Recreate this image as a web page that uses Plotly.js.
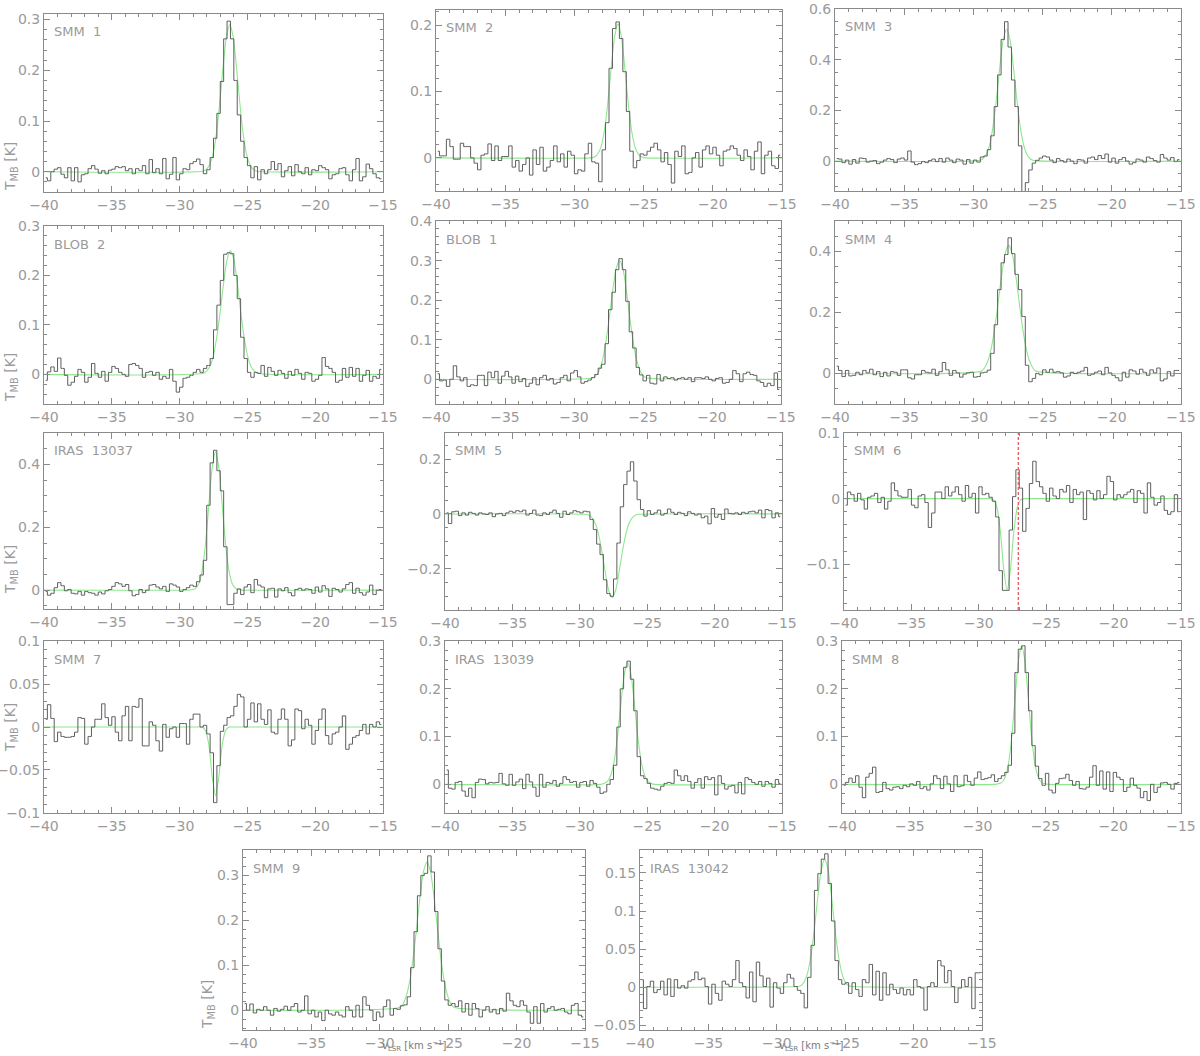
<!DOCTYPE html>
<html>
<head>
<meta charset="utf-8">
<script src="https://cdn.plot.ly/plotly-3.0.1.min.js"></script>
<style>
  html, body { margin: 0; padding: 0; background: #fff; }
  #spectra { width: 1200px; height: 1056px; }
</style>
</head>
<body>
<div id="spectra"></div>
<script>
// velocity channels shared by all spectra (km/s)
const chanStart = -39.875;
const chanWidth = 0.25;
const nChan = 100;

const sourceNames = ['SMM 1', 'SMM 2', 'SMM 3', 'BLOB 2', 'BLOB 1', 'SMM 4', 'IRAS 13037',
  'SMM 5', 'SMM 6', 'SMM 7', 'IRAS 13039', 'SMM 8', 'SMM 9', 'IRAS 13042'];

// T_MB [K] per channel
const smm1 = [
  -0.012, -0.018, 0.000, 0.005, 0.008, -0.005, -0.012, 0.008, -0.018, 0.008, -0.020, -0.006, -0.004, 0.006, 0.012, 0.005, -0.003, 0.002, -0.004, 0.003,
  0.005, 0.010, 0.008, 0.010, 0.002, 0.006, -0.004, 0.006, 0.002, 0.012, -0.004, 0.024, -0.002, 0.006, -0.004, 0.026, -0.014, -0.005, 0.028, -0.016,
  -0.004, 0.006, 0.004, 0.016, 0.020, 0.025, 0.014, -0.004, 0.004, 0.028, 0.066, 0.115, 0.178, 0.262, 0.297, 0.262, 0.180, 0.112, 0.060, 0.028,
  0.012, -0.012, 0.010, -0.016, 0.004, -0.004, 0.004, 0.020, 0.004, 0.016, -0.010, 0.002, 0.010, -0.008, 0.014, 0.000, -0.004, 0.008, -0.006, 0.004,
  0.002, 0.012, 0.008, 0.004, -0.014, -0.006, -0.004, 0.006, 0.008, -0.006, -0.018, 0.004, 0.026, -0.018, -0.010, 0.015, 0.006, -0.004, -0.012, -0.014];
const smm2 = [
  0.010, 0.003, 0.003, 0.028, 0.017, -0.002, -0.002, 0.022, 0.017, 0.017, 0.000, -0.008, -0.018, 0.004, 0.006, 0.021, -0.004, 0.018, -0.004, 0.002,
  0.002, 0.018, -0.014, -0.004, -0.020, -0.010, 0.000, -0.026, 0.012, -0.010, 0.016, -0.020, -0.014, -0.004, 0.018, -0.006, 0.006, -0.014, 0.010, 0.004,
  -0.024, -0.018, -0.020, 0.006, 0.022, -0.006, -0.008, -0.036, 0.012, 0.053, 0.135, 0.195, 0.205, 0.180, 0.130, 0.070, 0.010, -0.015, -0.004, 0.006,
  0.004, 0.010, 0.016, 0.022, 0.012, -0.006, 0.008, -0.010, -0.038, 0.010, 0.002, 0.018, -0.024, -0.022, 0.000, 0.008, -0.014, 0.012, 0.018, 0.006,
  0.016, 0.004, -0.012, 0.010, 0.012, 0.018, 0.014, 0.004, -0.004, 0.012, 0.002, -0.018, 0.010, 0.024, -0.024, 0.004, 0.010, -0.012, -0.016, 0.004];
const smm3 = [
  0.010, 0.008, -0.006, 0.004, -0.012, 0.006, -0.008, 0.012, 0.010, -0.004, 0.000, 0.002, -0.010, -0.004, 0.004, 0.010, 0.006, -0.006, 0.008, 0.012,
  0.004, 0.040, -0.004, -0.014, -0.010, -0.002, -0.006, 0.002, 0.008, -0.002, 0.010, -0.004, 0.012, 0.004, -0.006, 0.008, 0.004, -0.012, 0.006, -0.008,
  0.004, -0.004, 0.016, 0.020, 0.045, 0.100, 0.215, 0.340, 0.480, 0.550, 0.450, 0.320, 0.215, 0.060, -0.130, -0.085, -0.035, -0.008, 0.003, 0.012,
  0.020, 0.016, 0.004, -0.006, 0.010, 0.002, -0.004, 0.008, 0.000, -0.010, 0.006, 0.004, -0.008, 0.012, 0.016, 0.006, 0.022, 0.010, 0.028, -0.004,
  0.012, -0.008, 0.006, 0.014, 0.000, -0.012, -0.006, 0.008, 0.004, -0.004, 0.016, 0.010, 0.002, -0.004, 0.026, 0.012, 0.004, 0.014, -0.002, 0.006];
const blob2 = [
  -0.012, 0.005, 0.015, 0.006, 0.033, 0.012, -0.002, -0.022, -0.016, -0.004, 0.010, 0.004, -0.016, -0.006, 0.022, 0.002, -0.006, 0.006, -0.014, 0.004,
  0.016, 0.012, 0.004, 0.000, -0.004, 0.020, 0.022, 0.018, 0.012, -0.006, 0.004, 0.006, -0.002, 0.004, -0.010, -0.004, -0.008, 0.010, -0.014, -0.036,
  -0.026, -0.008, -0.006, -0.002, 0.004, 0.010, 0.004, 0.012, 0.018, 0.032, 0.090, 0.140, 0.190, 0.243, 0.246, 0.244, 0.200, 0.153, 0.075, 0.032,
  0.004, -0.006, 0.004, 0.002, 0.018, -0.004, 0.014, 0.006, -0.002, 0.008, 0.002, -0.008, 0.006, -0.002, 0.010, 0.002, -0.010, 0.004, 0.002, -0.014,
  -0.010, -0.002, 0.034, 0.016, 0.012, 0.004, -0.016, -0.012, 0.012, -0.006, 0.014, -0.004, 0.012, -0.014, -0.002, 0.008, -0.014, -0.004, -0.008, 0.010];
const blob1 = [
  0.014, -0.004, -0.002, -0.018, 0.000, 0.034, 0.006, -0.004, 0.004, -0.018, -0.014, -0.016, 0.010, 0.010, -0.016, 0.018, 0.004, 0.020, -0.010, 0.008,
  0.020, 0.006, -0.010, 0.008, -0.006, 0.002, -0.018, -0.010, 0.004, -0.014, 0.004, 0.010, -0.002, 0.002, -0.012, -0.008, 0.004, 0.010, -0.004, 0.016,
  0.022, 0.006, -0.010, -0.006, -0.002, 0.004, 0.012, 0.028, 0.038, 0.090, 0.176, 0.220, 0.277, 0.305, 0.277, 0.197, 0.120, 0.079, 0.030, 0.011,
  -0.004, 0.010, -0.010, -0.012, 0.012, -0.004, 0.006, 0.002, 0.004, -0.002, 0.002, 0.004, 0.000, 0.004, -0.006, 0.004, 0.004, 0.002, 0.006, 0.000,
  -0.004, 0.002, 0.004, -0.010, -0.008, 0.000, 0.022, 0.014, -0.006, 0.014, 0.018, 0.012, 0.010, -0.004, -0.008, -0.018, -0.010, -0.016, 0.016, -0.026];
const smm4 = [
  0.024, 0.010, -0.010, 0.010, -0.008, -0.006, 0.004, -0.004, 0.010, 0.002, 0.014, -0.004, 0.006, -0.010, 0.004, -0.008, 0.006, 0.004, -0.006, 0.012,
  0.012, -0.014, -0.018, -0.004, -0.004, 0.010, 0.004, 0.002, 0.014, -0.006, 0.006, 0.036, 0.012, -0.006, 0.010, 0.002, -0.012, -0.002, 0.002, 0.004,
  -0.012, -0.010, 0.002, 0.004, 0.011, 0.066, 0.160, 0.275, 0.363, 0.390, 0.445, 0.393, 0.325, 0.275, 0.187, 0.027, -0.027, -0.016, 0.000, -0.004,
  0.012, 0.004, 0.014, 0.004, 0.006, 0.002, -0.012, -0.008, 0.004, 0.000, 0.004, 0.008, 0.020, -0.006, -0.002, 0.004, 0.008, -0.004, 0.020, 0.002,
  -0.006, -0.014, -0.024, 0.004, -0.012, 0.012, 0.008, -0.002, 0.014, 0.004, -0.006, 0.012, 0.002, 0.018, -0.024, -0.018, 0.006, -0.008, 0.010, 0.010];
const iras13037 = [
  -0.004, -0.016, -0.010, 0.008, 0.024, 0.014, -0.002, 0.002, -0.010, -0.012, -0.004, -0.016, -0.004, -0.008, -0.010, -0.016, -0.006, -0.012, -0.002, 0.002,
  0.012, 0.024, 0.020, 0.012, 0.018, -0.002, -0.018, -0.014, 0.002, -0.008, 0.000, 0.016, 0.018, 0.010, 0.004, 0.012, -0.004, 0.020, 0.016, 0.010,
  -0.004, 0.002, 0.008, 0.016, 0.012, 0.027, 0.048, 0.095, 0.270, 0.405, 0.445, 0.380, 0.316, 0.138, -0.046, -0.046, -0.010, 0.004, -0.014, 0.010,
  0.018, -0.008, 0.034, 0.016, 0.010, -0.024, 0.004, 0.006, -0.022, 0.004, -0.002, 0.008, -0.008, -0.018, 0.002, 0.006, 0.000, 0.004, 0.002, -0.010,
  0.010, -0.006, 0.014, 0.004, -0.020, 0.006, 0.002, -0.006, 0.004, 0.018, 0.024, -0.010, 0.006, -0.008, -0.016, -0.006, 0.016, -0.014, 0.000, 0.002];
const smm5 = [
  0.004, -0.035, 0.008, 0.010, -0.006, 0.004, -0.004, 0.006, 0.002, -0.004, 0.004, 0.000, -0.002, 0.004, -0.010, 0.000, 0.002, -0.006, 0.004, 0.010,
  0.006, 0.012, 0.008, 0.014, -0.004, 0.002, 0.014, -0.004, -0.006, 0.004, -0.002, 0.006, 0.014, 0.002, -0.012, 0.010, -0.002, 0.004, 0.012, 0.008,
  0.004, 0.010, 0.008, -0.020, -0.057, -0.110, -0.148, -0.240, -0.290, -0.300, -0.237, -0.106, 0.026, 0.107, 0.156, 0.190, 0.120, 0.052, 0.016, -0.008,
  0.012, -0.002, 0.004, 0.014, -0.004, 0.002, 0.018, 0.006, -0.002, 0.006, 0.002, -0.006, 0.008, 0.002, -0.004, 0.000, -0.014, -0.008, -0.036, 0.020,
  -0.012, -0.002, -0.020, 0.018, 0.002, 0.000, 0.004, -0.002, 0.006, 0.002, 0.008, 0.010, 0.004, 0.014, -0.014, 0.016, 0.012, -0.014, 0.004, -0.010];
const smm6 = [
  -0.010, 0.010, 0.006, -0.004, 0.008, -0.002, -0.016, 0.002, 0.004, 0.008, -0.006, 0.002, -0.016, -0.004, 0.024, 0.012, 0.004, 0.002, 0.002, 0.014,
  -0.010, -0.014, 0.004, 0.006, -0.006, -0.044, -0.022, 0.010, 0.010, 0.000, 0.018, 0.004, 0.010, 0.018, 0.006, -0.004, 0.020, 0.002, 0.008, -0.022,
  0.018, 0.006, 0.008, 0.002, -0.004, -0.028, -0.110, -0.140, -0.140, -0.048, 0.003, 0.044, 0.016, -0.050, -0.015, 0.023, 0.057, 0.026, 0.018, 0.008,
  -0.004, 0.016, 0.004, 0.000, 0.014, 0.010, 0.020, -0.006, 0.014, 0.006, 0.010, -0.032, 0.012, 0.008, -0.002, 0.012, 0.000, 0.006, 0.034, 0.026,
  -0.002, 0.006, 0.002, 0.006, 0.010, 0.014, -0.006, 0.012, 0.008, -0.022, 0.024, 0.002, -0.010, -0.006, 0.004, -0.018, -0.024, -0.020, 0.006, -0.020];
const smm7 = [
  0.009, 0.026, 0.010, -0.017, -0.006, -0.011, -0.012, -0.012, -0.011, -0.006, 0.011, 0.010, -0.020, -0.011, 0.000, 0.009, 0.009, 0.027, 0.011, 0.002,
  0.012, -0.006, -0.016, 0.013, 0.024, -0.016, 0.024, 0.023, 0.033, -0.022, -0.022, 0.006, 0.002, -0.016, -0.028, 0.003, -0.012, -0.002, 0.000, -0.012,
  0.004, 0.004, -0.020, 0.009, 0.015, 0.015, 0.000, 0.002, -0.008, -0.030, -0.088, -0.045, -0.005, 0.002, 0.011, 0.013, 0.024, 0.038, 0.035, 0.000,
  0.009, 0.028, 0.006, 0.027, 0.009, 0.003, 0.020, -0.006, -0.008, 0.009, 0.021, 0.009, -0.022, -0.015, 0.021, 0.019, -0.002, 0.009, 0.002, -0.020,
  -0.004, 0.009, 0.021, -0.010, -0.020, -0.008, -0.006, 0.000, 0.013, -0.026, -0.020, -0.012, -0.010, -0.004, 0.003, -0.008, 0.003, 0.000, 0.006, 0.003];
const iras13039 = [
  0.030, -0.008, -0.010, 0.004, 0.006, -0.014, -0.025, -0.008, -0.028, 0.004, 0.011, 0.010, 0.001, 0.004, 0.003, 0.004, 0.023, 0.001, -0.002, 0.021,
  -0.002, 0.005, 0.011, -0.009, 0.021, 0.005, -0.006, -0.025, 0.021, -0.006, 0.004, 0.002, 0.008, -0.004, 0.002, 0.016, 0.010, 0.004, 0.006, -0.006,
  0.004, 0.006, -0.004, 0.008, 0.002, -0.006, -0.019, -0.016, 0.000, 0.010, 0.040, 0.120, 0.200, 0.245, 0.258, 0.220, 0.154, 0.058, 0.018, 0.012,
  0.002, -0.008, -0.010, -0.012, -0.004, 0.002, 0.004, 0.002, 0.030, 0.018, 0.008, 0.018, 0.006, -0.008, 0.004, 0.012, -0.008, 0.016, 0.010, 0.014,
  -0.022, 0.018, 0.002, -0.010, -0.004, -0.002, -0.018, 0.004, -0.020, 0.014, 0.010, 0.004, 0.000, 0.006, -0.004, 0.006, 0.002, -0.006, 0.010, 0.002];
const smm8 = [
  -0.002, 0.004, 0.013, 0.004, 0.018, -0.006, -0.028, 0.015, 0.023, 0.036, -0.017, -0.015, 0.004, -0.009, -0.012, -0.006, -0.005, -0.009, -0.002, -0.005,
  0.001, -0.002, 0.006, -0.009, -0.005, -0.012, 0.001, 0.018, 0.012, -0.009, 0.017, 0.001, -0.015, 0.018, -0.005, -0.003, 0.019, 0.006, -0.002, 0.013,
  0.026, 0.010, 0.012, 0.014, 0.020, 0.006, 0.012, 0.018, 0.025, 0.040, 0.107, 0.234, 0.283, 0.290, 0.234, 0.154, 0.081, 0.038, 0.012, -0.002,
  0.023, -0.012, -0.018, 0.002, 0.012, 0.013, 0.021, 0.008, -0.002, 0.006, -0.009, -0.010, -0.006, 0.015, 0.039, -0.002, 0.028, -0.010, 0.026, -0.015,
  0.025, 0.015, 0.010, -0.015, -0.006, 0.013, -0.002, -0.008, -0.028, -0.015, -0.034, 0.000, -0.017, -0.006, 0.003, 0.004, 0.000, -0.010, 0.002, 0.004];
const smm9 = [
  0.015, 0.000, 0.014, -0.006, 0.002, 0.000, 0.008, 0.000, -0.011, 0.004, -0.002, 0.002, 0.009, 0.000, 0.008, 0.015, -0.004, 0.000, 0.032, -0.008,
  0.000, -0.015, -0.004, -0.023, 0.000, -0.008, -0.011, -0.004, -0.011, -0.015, 0.008, 0.000, -0.015, 0.011, -0.015, 0.030, 0.011, 0.000, -0.023, -0.004,
  -0.015, 0.008, 0.023, -0.011, 0.004, 0.002, 0.010, 0.012, 0.030, 0.095, 0.175, 0.255, 0.300, 0.305, 0.344, 0.308, 0.220, 0.137, 0.065, 0.023,
  0.011, 0.015, 0.008, 0.021, -0.004, 0.015, -0.011, 0.015, 0.004, -0.015, 0.000, 0.008, -0.004, 0.002, -0.008, 0.004, -0.002, 0.038, 0.021, 0.011,
  0.008, 0.021, 0.011, -0.004, -0.029, 0.008, -0.029, 0.015, -0.004, 0.004, 0.008, 0.000, 0.002, 0.004, -0.004, -0.008, 0.011, 0.015, -0.011, -0.015];
const iras13042 = [
  0.010, -0.028, 0.001, 0.008, -0.007, -0.003, 0.008, -0.010, 0.011, -0.012, 0.010, -0.001, 0.002, -0.001, 0.008, 0.010, 0.020, 0.010, 0.012, 0.001,
  -0.022, 0.004, -0.008, -0.017, 0.008, 0.004, 0.001, 0.010, 0.035, 0.006, 0.001, -0.014, 0.020, -0.019, 0.033, 0.015, 0.001, 0.012, -0.026, 0.006,
  -0.001, -0.008, 0.006, 0.017, 0.012, 0.001, -0.004, -0.008, -0.027, 0.013, 0.055, 0.127, 0.149, 0.168, 0.175, 0.136, 0.087, 0.035, 0.010, 0.004,
  0.006, -0.008, 0.006, -0.003, -0.012, 0.010, 0.006, 0.030, -0.010, 0.021, -0.017, 0.019, -0.010, 0.004, -0.003, -0.008, -0.001, -0.010, -0.003, -0.010,
  0.010, 0.001, -0.001, -0.030, 0.001, 0.006, 0.001, 0.035, 0.028, 0.006, 0.022, 0.001, -0.020, -0.001, 0.010, 0.001, 0.013, -0.028, 0.019, 0.019];

// Gaussian fits (green), sampled at these offsets from each line centre
const fitOffsets = [-2, -1.75, -1.5, -1.25, -1, -0.75, -0.5, -0.25, 0, 0.25, 0.5, 0.75, 1, 1.25, 1.5, 1.75, 2];
const fitCentres = [-26.3, -26.85, -27.6, -26.25, -26.7, -27.45, -27.35, -27.6, -27.9, -27.35, -26.45, -26.75, -26.55, -26.5];
const fitSmm1 = [0.001, 0.004, 0.013, 0.033, 0.072, 0.133, 0.205, 0.266, 0.290, 0.266, 0.205, 0.133, 0.072, 0.033, 0.013, 0.004, 0.001];
const fitSmm2 = [0, 0.001, 0.005, 0.015, 0.039, 0.080, 0.134, 0.182, 0.202, 0.182, 0.134, 0.080, 0.039, 0.015, 0.005, 0.001, 0];
const fitSmm3 = [0.002, 0.007, 0.023, 0.059, 0.130, 0.238, 0.367, 0.477, 0.520, 0.477, 0.367, 0.238, 0.130, 0.059, 0.023, 0.007, 0.002];
const fitBlob2 = [0.002, 0.007, 0.017, 0.039, 0.077, 0.128, 0.186, 0.232, 0.250, 0.232, 0.186, 0.128, 0.077, 0.039, 0.017, 0.007, 0.002];
const fitBlob1 = [0.003, 0.008, 0.021, 0.047, 0.092, 0.154, 0.223, 0.279, 0.300, 0.279, 0.223, 0.154, 0.092, 0.047, 0.021, 0.008, 0.003];
const fitSmm4 = [0.007, 0.018, 0.042, 0.085, 0.151, 0.237, 0.325, 0.394, 0.420, 0.394, 0.325, 0.237, 0.151, 0.085, 0.042, 0.018, 0.007];
const fitIras13037 = [0, 0.001, 0.005, 0.019, 0.060, 0.143, 0.267, 0.388, 0.440, 0.388, 0.267, 0.143, 0.060, 0.019, 0.005, 0.001, 0];
const fitSmm5 = [-0.001, -0.004, -0.013, -0.035, -0.076, -0.140, -0.216, -0.280, -0.305, -0.280, -0.216, -0.140, -0.076, -0.035, -0.013, -0.004, -0.001];
const fitSmm6 = [0, 0, 0, 0, -0.002, -0.014, -0.050, -0.108, -0.140, -0.108, -0.050, -0.014, -0.002, 0, 0, 0, 0];
const fitSmm7 = [0, 0, 0, 0, 0, -0.004, -0.020, -0.057, -0.080, -0.057, -0.020, -0.004, 0, 0, 0, 0, 0];
const fitIras13039 = [0, 0.002, 0.006, 0.019, 0.049, 0.101, 0.169, 0.230, 0.255, 0.230, 0.169, 0.101, 0.049, 0.019, 0.006, 0.002, 0];
const fitSmm8 = [0, 0.001, 0.003, 0.013, 0.039, 0.094, 0.176, 0.256, 0.290, 0.256, 0.176, 0.094, 0.039, 0.013, 0.003, 0.001, 0];
const fitSmm9 = [0.006, 0.014, 0.033, 0.067, 0.119, 0.186, 0.256, 0.310, 0.330, 0.310, 0.256, 0.186, 0.119, 0.067, 0.033, 0.014, 0.006];
const fitIras13042 = [0.001, 0.002, 0.007, 0.019, 0.042, 0.077, 0.119, 0.154, 0.168, 0.154, 0.119, 0.077, 0.042, 0.019, 0.007, 0.002, 0.001];

// velocity marked in the SMM 6 panel
const smm6Marker = -27.07;

const spectra = [smm1, smm2, smm3, blob2, blob1, smm4, iras13037, smm5, smm6, smm7, iras13039, smm8, smm9, iras13042];
const fits = [fitSmm1, fitSmm2, fitSmm3, fitBlob2, fitBlob1, fitSmm4, fitIras13037, fitSmm5, fitSmm6, fitSmm7,
  fitIras13039, fitSmm8, fitSmm9, fitIras13042];

// ---- layout of the 14 panels (pixel boxes: left, right, top, bottom) ----
const W = 1200, H = 1056;
const boxes = [
  [44, 383, 14, 192], [436, 782, 10, 191], [835, 1181, 9, 191],
  [44, 383, 226, 404], [436, 781, 221, 404], [835, 1181, 221, 404],
  [44, 383, 433, 609], [445, 782, 433, 610], [844, 1181, 433, 610],
  [44, 383, 641, 813], [445, 782, 641, 813], [842, 1181, 641, 813],
  [243, 585, 850, 1030], [640, 982, 850, 1030]
];
const yRanges = [
  [-0.04, 0.311], [-0.05, 0.223], [-0.118, 0.6001],
  [-0.06, 0.3001], [-0.0625, 0.4001], [-0.1, 0.5],
  [-0.06, 0.5], [-0.35, 0.295], [-0.17, 0.1001],
  [-0.1001, 0.1001], [-0.06, 0.3001], [-0.06, 0.3001],
  [-0.044, 0.357], [-0.056, 0.18]
];
const yDtick = [0.1, 0.1, 0.2, 0.1, 0.1, 0.2, 0.2, 0.2, 0.1, 0.05, 0.1, 0.1, 0.1, 0.05];
const yMinor = [0.02, 0.02, 0.05, 0.02, 0.02, 0.05, 0.05, 0.05, 0.02, 0.01, 0.02, 0.02, 0.02, 0.01];
// panels that carry the T_MB label, with the label's pixel centre
const yTitles = [[0, 11, 167], [3, 11, 378], [6, 11, 570], [9, 11, 728], [12, 208, 1005]];

const vel = Array.from({ length: nChan }, (_, i) => chanStart + i * chanWidth);

const lineCol = '#8a8a8a';
const textCol = '#9a9a9a';
const tickFont = { family: 'DejaVu Sans, sans-serif', size: 14, color: textCol };

const axisCommon = {
  showline: true, linecolor: lineCol, linewidth: 1, mirror: 'allticks',
  ticks: 'inside', ticklen: 6, tickwidth: 1, tickcolor: lineCol,
  showgrid: false, zeroline: false, fixedrange: true,
  tickfont: tickFont
};

const data = [];
const layout = {
  width: W, height: H,
  margin: { l: 0, r: 0, t: 0, b: 0 },
  paper_bgcolor: '#ffffff', plot_bgcolor: '#ffffff',
  showlegend: false,
  annotations: [],
  shapes: []
};

spectra.forEach((spec, k) => {
  const n = k + 1;
  const sfx = n === 1 ? '' : String(n);
  const [l, r, t, b] = boxes[k];

  // Gaussian fit
  data.push({
    x: [-40, ...fitOffsets.map(d => fitCentres[k] + d), -15],
    y: [0, ...fits[k], 0],
    xaxis: 'x' + sfx, yaxis: 'y' + sfx,
    mode: 'lines', hoverinfo: 'skip',
    line: { shape: 'spline', smoothing: 0.6, color: '#8ee88e', width: 1.1 }
  });
  // observed spectrum as a histogram
  data.push({
    x: vel, y: spec,
    xaxis: 'x' + sfx, yaxis: 'y' + sfx,
    mode: 'lines', hoverinfo: 'skip',
    line: { shape: 'hvh', color: '#5e5e5e', width: 1 }
  });

  layout['xaxis' + sfx] = Object.assign({}, axisCommon, {
    domain: [l / W, r / W], anchor: 'y' + sfx,
    range: [-40, -15], tick0: -40, dtick: 5,
    minor: { dtick: 1, ticks: 'inside', ticklen: 3, tickcolor: lineCol }
  });
  layout['yaxis' + sfx] = Object.assign({}, axisCommon, {
    domain: [1 - b / H, 1 - t / H], anchor: 'x' + sfx,
    range: yRanges[k], tick0: 0, dtick: yDtick[k],
    minor: { dtick: yMinor[k], ticks: 'inside', ticklen: 3, tickcolor: lineCol }
  });

  layout.annotations.push({
    text: sourceNames[k].replace(' ', '\u00a0\u00a0'),
    xref: 'paper', yref: 'paper',
    x: (l + 8) / W, y: 1 - (t + 18) / H,
    xanchor: 'left', yanchor: 'middle', showarrow: false,
    font: { family: 'DejaVu Sans, sans-serif', size: 13, color: textCol }
  });
});

yTitles.forEach(([k, px, py]) => {
  layout.annotations.push({
    text: 'T<sub>MB</sub> [K]',
    xref: 'paper', yref: 'paper',
    x: px / W, y: 1 - py / H,
    xanchor: 'center', yanchor: 'middle', textangle: -90, showarrow: false,
    font: { family: 'DejaVu Sans, sans-serif', size: 14, color: textCol }
  });
});

// velocity axis label under the bottom row
[12, 13].forEach(k => {
  const [l, r] = boxes[k];
  layout.annotations.push({
    text: 'v<sub>LSR</sub> [km s<sup>\u22121</sup>]',
    xref: 'paper', yref: 'paper',
    x: (l + r) / 2 / W, y: 1 - 1046 / H,
    xanchor: 'center', yanchor: 'middle', showarrow: false,
    font: { family: 'DejaVu Sans, sans-serif', size: 10, color: '#7a7a7a' }
  });
});

// red marker in the SMM 6 panel
layout.shapes.push({
  type: 'line', xref: 'x9', yref: 'y9 domain',
  x0: smm6Marker, x1: smm6Marker, y0: 0, y1: 1,
  line: { color: '#ee5565', width: 1.3, dash: '3px,2px' }
});

Plotly.newPlot('spectra', data, layout, { staticPlot: true, displayModeBar: false });
</script>
</body>
</html>
